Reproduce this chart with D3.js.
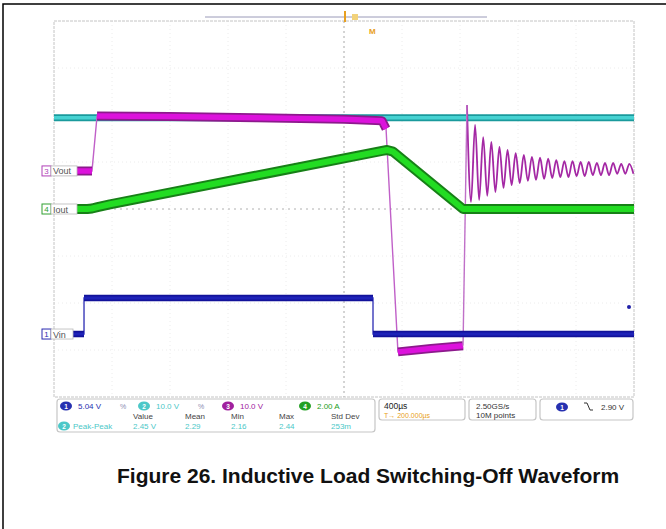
<!DOCTYPE html>
<html>
<head>
<meta charset="utf-8">
<script src="https://cdn.jsdelivr.net/npm/d3@7"></script>
<style>
    body { margin: 0; background: #fff; }
    svg { display: block; }
    text { font-family: "Liberation Sans", Arial, sans-serif; }
</style>
</head>
<body>
<svg id="chart" width="666" height="529"></svg>
<script>
/*################
################*/
// time axis, µs (400 µs/div, 10 div)
const timeDomain = [0, 4000];

// ch3 Vout (V), 10 V/div
const voutT = [0, 262, 297, 800, 1400, 2000, 2262, 2290, 2372, 2600, 2821];
const voutV = [0, 0, 11.7, 11.6, 11.3, 11.0, 10.7, 9.0, -38.5, -37.8, -37.2];
// ringing after the clamp releases (peaks / troughs, V)
const ringT = [2848, 2876, 2904, 2932, 2960, 2988, 3016, 3044, 3072, 3100, 3128, 3156, 3184, 3212,
    3240, 3268, 3296, 3324, 3352, 3380, 3408, 3436, 3464, 3492, 3520, 3548, 3576, 3604,
    3632, 3660, 3688, 3716, 3744, 3772, 3800, 3828, 3856, 3884, 3912, 3940, 3968, 3996];
const ringV = [14.0, -6.6, 9.8, -6.2, 7.2, -5.3, 6.2, -4.5, 5.1, -3.6, 4.5, -3.0, 3.8, -2.6,
    3.4, -2.1, 3.0, -1.9, 2.8, -1.7, 2.6, -1.5, 2.3, -1.3, 2.1, -1.3, 2.1, -1.1,
    1.9, -1.1, 1.9, -0.9, 1.7, -0.9, 1.7, -0.9, 1.7, -0.6, 1.5, -0.6, 1.5, -0.6];

// ch2 (V), 10 V/div
const ch2T = [0, 4000];
const ch2V = [11.3, 11.3];

// ch4 Iout (A), 2 A/div
const ioutT = [0, 230, 262, 300, 386, 2262, 2297, 2338, 2821, 2850, 4000];
const ioutA = [0, 0, 0.02, 0.08, 0.2, 2.47, 2.51, 2.44, 0, 0, 0];

// ch1 Vin (V), 5.04 V/div
const vinT = [0, 207, 207, 2200, 2200, 4000];
const vinV = [0, 0, 3.86, 3.86, 0, 0];
const trigLevel = 2.90;

// channel settings: [units per div, ground offset in div from centre]
const voutCh = [10, 0.81], ch2Ch = [10, 0.81], ioutCh = [2, 0], vinCh = [5.04, -2.66];

// readouts
const chReadout = [
    { n: '1', txt: '5.04 V', col: '#2630b0', bw: true },
    { n: '2', txt: '10.0 V', col: '#4cc8c8', bw: true },
    { n: '3', txt: '10.0 V', col: '#a0209e', bw: false },
    { n: '4', txt: '2.00 A', col: '#23a023', bw: false }
];
const measHeaders = ['Value', 'Mean', 'Min', 'Max', 'Std Dev'];
const measValues = ['2.45 V', '2.29', '2.16', '2.44', '253m'];

/*################
Canvas
################*/
const svg = d3.select('#chart');
const x = d3.scaleLinear().domain(timeDomain).range([54, 634]);
const yDiv = d3.scaleLinear().domain([-4, 4]).range([397, 21]);
const chY = ch => v => yDiv(ch[1] + v / ch[0]);

// page frame
svg.append('path').attr('d', 'M3,529V4H666')
    .attr('fill', 'none').attr('stroke', '#000').attr('stroke-width', 1.5);

/*################
Graticule
################*/
const grid = svg.append('g');
d3.range(1, 10).forEach(i => {
    const gx = x(i * 400);
    grid.append('line').attr('x1', gx).attr('x2', gx).attr('y1', 21).attr('y2', 397)
        .attr('stroke', i === 5 ? '#a8a8a8' : '#ececec')
        .attr('stroke-dasharray', i === 5 ? '2,3' : '1,3');
});
d3.range(-3, 4).forEach(i => {
    const gy = yDiv(i);
    grid.append('line').attr('x1', 54).attr('x2', 634).attr('y1', gy).attr('y2', gy)
        .attr('stroke', i === 0 ? '#b0b0b0' : '#ececec')
        .attr('stroke-dasharray', i === 0 ? '2,4' : '1,3');
});
grid.append('rect').attr('x', 54).attr('y', 21).attr('width', 580).attr('height', 376)
    .attr('fill', 'none').attr('stroke', '#c4c4c4').attr('stroke-dasharray', '3,1');

// record bar + trigger markers
svg.append('line').attr('x1', 205).attr('x2', 487).attr('y1', 17).attr('y2', 17)
    .attr('stroke', '#9a9ab8').attr('stroke-width', 1);
svg.append('rect').attr('x', 344).attr('y', 11).attr('width', 2).attr('height', 11).attr('fill', '#e8a020');
svg.append('rect').attr('x', 352).attr('y', 14).attr('width', 6).attr('height', 6).attr('fill', '#f2d27a');
svg.append('text').attr('x', 369).attr('y', 34).attr('font-size', 8).attr('font-weight', 'bold')
    .attr('fill', '#e8a020').text('M');

/*################
Traces
################*/
const line = d3.line();

function drawTrace(ts, vs, yFn, bands, st) {
    const pts = ts.map((t, i) => [x(t), yFn(vs[i])]);
    const g = svg.append('g');
    g.append('path').attr('d', line(pts)).attr('fill', 'none')
        .attr('stroke', st.thin).attr('stroke-width', st.thinW || 1.4);
    bands.forEach(([a, b]) => {
        const seg = pts.slice(a, b + 1);
        g.append('path').attr('d', line(seg)).attr('fill', 'none')
            .attr('stroke', st.edge).attr('stroke-width', st.w).attr('stroke-linejoin', 'round');
        g.append('path').attr('d', line(seg)).attr('fill', 'none')
            .attr('stroke', st.fill).attr('stroke-width', st.w - 3.5).attr('stroke-linejoin', 'round');
    });
    return pts;
}

// ch2 cyan
drawTrace(ch2T, ch2V, chY(ch2Ch), [[0, 1]], { thin: '#2aa', edge: '#1a9a9c', fill: '#46d2d2', w: 7 });

// ch3 magenta Vout
const voutPts = drawTrace(voutT, voutV, chY(voutCh), [[0, 1], [2, 7], [8, 10]],
    { thin: '#c060c8', edge: '#8c1a8c', fill: '#dc12dc', w: 9 });
const ringPts = [voutPts[voutPts.length - 1]].concat(ringT.map((t, i) => [x(t), chY(voutCh)(ringV[i])]));
svg.append('path').attr('d', d3.line().curve(d3.curveMonotoneX)(ringPts.slice(1)))
    .attr('fill', 'none').attr('stroke', '#a428a4').attr('stroke-width', 1.8);
svg.append('path').attr('d', line(ringPts.slice(0, 2)))
    .attr('fill', 'none').attr('stroke', '#c070c8').attr('stroke-width', 1.4);

// ch4 green Iout
const ioutPts = ioutT.map((t, i) => [x(t), chY(ioutCh)(ioutA[i])]);
svg.append('path').attr('d', line(ioutPts)).attr('fill', 'none')
    .attr('stroke', '#178017').attr('stroke-width', 10).attr('stroke-linejoin', 'round');
svg.append('path').attr('d', line(ioutPts)).attr('fill', 'none')
    .attr('stroke', '#22dc22').attr('stroke-width', 6).attr('stroke-linejoin', 'round');

// ch1 blue Vin
drawTrace(vinT, vinV, chY(vinCh), [[0, 1], [2, 3], [4, 5]],
    { thin: '#3a3ab8', edge: '#12129a', fill: '#1e22b8', w: 6.5 });
svg.append('circle').attr('cx', 629).attr('cy', chY(vinCh)(trigLevel)).attr('r', 2).attr('fill', '#2020a8');

/*################
Ground labels
################*/
const labels = [
    { n: '3', name: 'Vout', col: '#b040b8', y: chY(voutCh)(0) },
    { n: '4', name: 'Iout', col: '#30a030', y: chY(ioutCh)(0) },
    { n: '1', name: 'Vin', col: '#2a2ab0', y: chY(vinCh)(0) }
];
labels.forEach(d => {
    const w = d.name === 'Vin' ? 22 : 26;
    const g = svg.append('g').attr('transform', `translate(42,${d.y - 5})`);
    g.append('rect').attr('width', 9).attr('height', 10).attr('fill', '#fff')
        .attr('stroke', d.col).attr('stroke-width', 1);
    g.append('text').attr('x', 4.5).attr('y', 8).attr('text-anchor', 'middle')
        .attr('font-size', 8).attr('fill', d.col).text(d.n);
    g.append('rect').attr('x', 9).attr('width', w).attr('height', 10).attr('fill', '#fff')
        .attr('stroke', '#b8b8b8').attr('stroke-width', 0.8);
    g.append('text').attr('x', 11).attr('y', 8.5).attr('font-size', 9).attr('fill', '#555').text(d.name);
});

/*################
Status bar
################*/
const box = (bx, by, bw, bh) => svg.append('rect').attr('x', bx).attr('y', by)
    .attr('width', bw).attr('height', bh).attr('rx', 3)
    .attr('fill', '#fff').attr('stroke', '#c6c6c6').attr('stroke-width', 1.2);
const oval = (cx, cy, col, n) => {
    svg.append('ellipse').attr('cx', cx).attr('cy', cy).attr('rx', 6).attr('ry', 4.5).attr('fill', col);
    svg.append('text').attr('x', cx).attr('y', cy + 2.5).attr('text-anchor', 'middle')
        .attr('font-size', 6.5).attr('fill', '#fff').attr('font-weight', 'bold').text(n);
};
const label = (tx, ty, s, col, size) => svg.append('text').attr('x', tx).attr('y', ty)
    .attr('font-size', size || 8).attr('fill', col).text(s);

box(57, 399, 318, 33);
box(379, 399, 86, 21);
box(469, 399, 67, 21);
box(540, 399, 93, 21);

const ovalX = [66, 144, 228, 305];
chReadout.forEach((d, i) => {
    oval(ovalX[i], 406, d.col, d.n);
    label(ovalX[i] + 12, 409, d.txt, d.col);
    if (d.bw) label(ovalX[i] + 54, 409, '%', '#8a8ab0', 7);
});
const measX = [133, 185, 231, 279, 331];
measHeaders.forEach((h, i) => label(measX[i], 419, h, '#444'));
oval(64, 426, '#4cc8c8', '2');
label(73, 429, 'Peak-Peak', '#4cc8c8');
measValues.forEach((v, i) => label(measX[i], 429, v, '#4cc8c8'));

label(384, 409, '400µs', '#222', 8.5);
label(384, 418, 'T→ 200.000µs', '#e8a020', 7);
label(476, 409, '2.50GS/s', '#333', 8);
label(476, 418, '10M points', '#333', 8);
oval(562, 407, '#2630b0', '1');
svg.append('path').attr('d', 'M584,403h3l3,7h3').attr('fill', 'none').attr('stroke', '#333').attr('stroke-width', 1);
label(601, 410, '2.90 V', '#333', 8);

/*################
Caption
################*/
svg.append('text').attr('x', 117).attr('y', 483)
    .attr('font-size', 21).attr('font-weight', 'bold').attr('fill', '#111')
    .text('Figure 26. Inductive Load Switching-Off Waveform');
</script>
</body>
</html>
